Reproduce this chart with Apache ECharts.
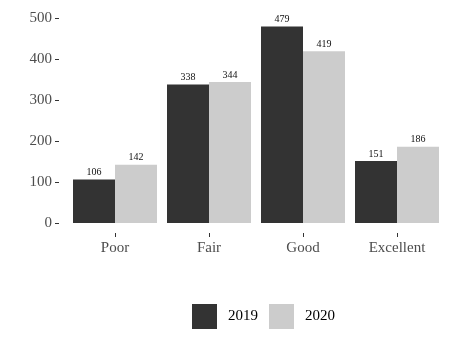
<!DOCTYPE html>
<html><head><meta charset="utf-8">
<script src="https://cdn.jsdelivr.net/npm/echarts@6/dist/echarts.min.js"></script>
<style>html,body{margin:0;padding:0;background:#fff}#c{width:463px;height:348px}</style>
</head><body><div id="c"></div>
<script>
const categories = ["Poor", "Fair", "Good", "Excellent"];
const values2019 = [106, 338, 479, 151];
const values2020 = [142, 344, 419, 186];
const seriesNames = ["2019", "2020"];
const FONT = "Liberation Serif";
const chart = echarts.init(document.getElementById('c'));
const lbl = {show: true, position: 'top', distance: 2, fontFamily: FONT, fontSize: 10, color: '#111'};
chart.setOption({
  animation: false,
  backgroundColor: '#fff',
  grid: {left: 68, right: 19, top: 18, bottom: 125},
  legend: {
    top: 299, left: 187, itemWidth: 25, itemHeight: 25, itemGap: 11, icon: 'rect',
    textStyle: {fontFamily: FONT, fontSize: 15, color: '#000', padding: [0, 0, 0, 6]},
    data: seriesNames
  },
  xAxis: {
    type: 'category', data: categories,
    axisLine: {show: false},
    axisTick: {show: true, alignWithLabel: true, length: 14, lineStyle: {color: '#333', type: [0, 10, 4, 0]}},
    axisLabel: {fontFamily: FONT, fontSize: 15, color: '#4d4d4d', margin: 18}
  },
  yAxis: {
    type: 'value', min: 0, max: 500, interval: 100, offset: 9,
    splitLine: {show: false},
    axisLine: {show: false},
    axisTick: {show: true, length: 4, lineStyle: {color: '#333'}},
    axisLabel: {fontFamily: FONT, fontSize: 15, color: '#4d4d4d', margin: 7}
  },
  series: [
    {name: seriesNames[0], type: 'bar', data: values2019, barWidth: 42, barGap: '0%', itemStyle: {color: '#333333'}, label: lbl},
    {name: seriesNames[1], type: 'bar', data: values2020, barWidth: 42, barGap: '0%', itemStyle: {color: '#cccccc'}, label: lbl}
  ]
});
</script></body></html>
